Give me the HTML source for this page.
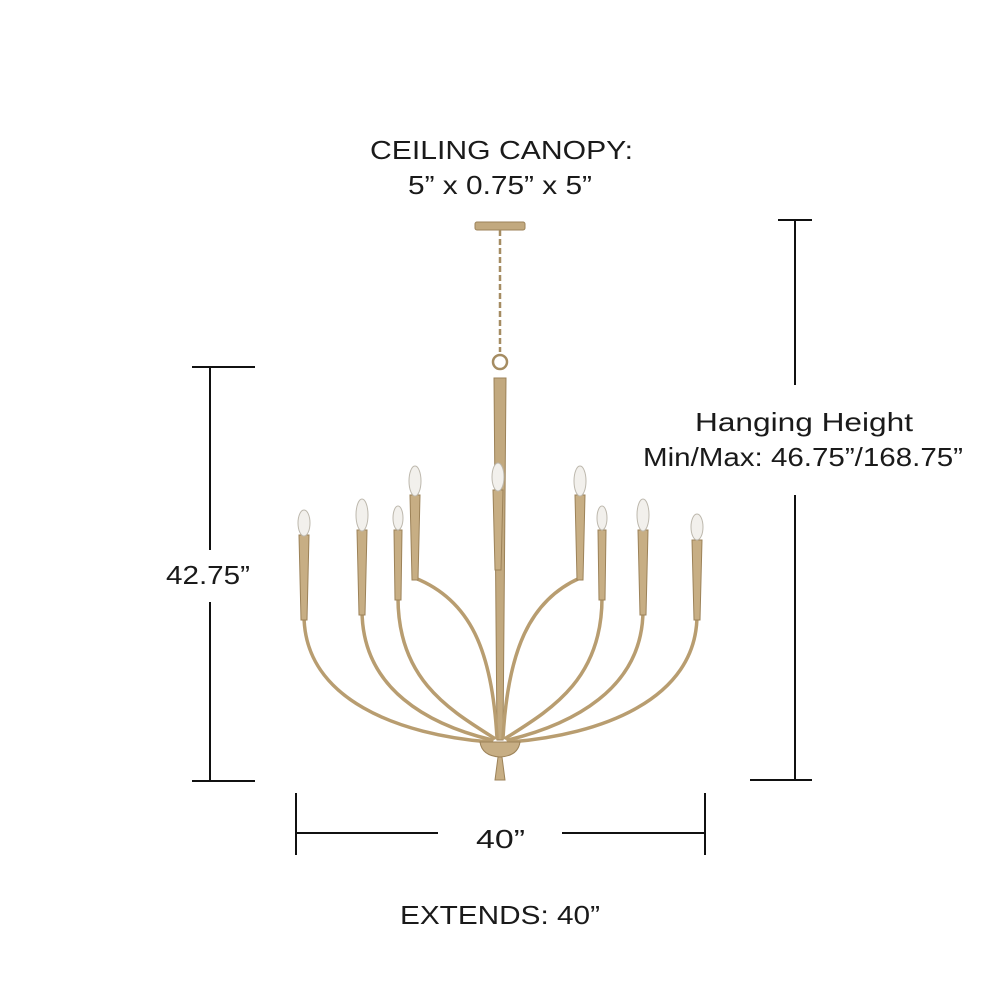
<!DOCTYPE html>
<html><head><style>
html,body{margin:0;padding:0;background:#fff;}
svg{display:block}
text{font-family:"Liberation Sans",sans-serif;fill:#1a1a1a;font-size:26px}
</style></head><body>
<svg width="1000" height="1000" viewBox="0 0 1000 1000" xmlns="http://www.w3.org/2000/svg">
<rect width="1000" height="1000" fill="#fff"/>
<g lengthAdjust="spacingAndGlyphs">
<text x="370" y="159" textLength="263" lengthAdjust="spacingAndGlyphs">CEILING CANOPY:</text>
<text x="408" y="194" textLength="184" lengthAdjust="spacingAndGlyphs">5” x 0.75” x 5”</text>
<text x="695" y="431" textLength="218" lengthAdjust="spacingAndGlyphs">Hanging Height</text>
<text x="643" y="466" textLength="320" lengthAdjust="spacingAndGlyphs">Min/Max: 46.75”/168.75”</text>
<text x="166" y="584" textLength="84" lengthAdjust="spacingAndGlyphs">42.75”</text>
<text x="476" y="848" textLength="49" lengthAdjust="spacingAndGlyphs">40”</text>
<text x="400" y="924" textLength="200" lengthAdjust="spacingAndGlyphs">EXTENDS: 40”</text>
</g>
<g stroke="#111" stroke-width="2" fill="none">
<line x1="192" y1="367" x2="255" y2="367"/>
<line x1="192" y1="781" x2="255" y2="781"/>
<line x1="210" y1="367" x2="210" y2="550"/>
<line x1="210" y1="602" x2="210" y2="781"/>
<line x1="778" y1="220" x2="812" y2="220"/>
<line x1="750" y1="780" x2="812" y2="780"/>
<line x1="795" y1="220" x2="795" y2="385"/>
<line x1="795" y1="495" x2="795" y2="780"/>
<line x1="296" y1="793" x2="296" y2="855"/>
<line x1="705" y1="793" x2="705" y2="855"/>
<line x1="296" y1="833" x2="438" y2="833"/>
<line x1="562" y1="833" x2="705" y2="833"/>
</g>
<g fill="#c2a97f" stroke="#9c8258" stroke-width="1">
<rect x="475" y="222" width="50" height="8" rx="2"/>
</g>
<line x1="500" y1="230" x2="500" y2="352" stroke="#a58c62" stroke-width="2.5" stroke-dasharray="6 3"/>
<circle cx="500" cy="362" r="7" fill="none" stroke="#a58c62" stroke-width="2.5"/>
<path d="M494 378 L506 378 L503 740 L497 740 Z" fill="#c2a97f" stroke="#9c8258"/>
<g fill="none" stroke="#b89d70" stroke-width="3.5" stroke-linecap="round">
<path d="M304 615 C304 700 400 735 490 742"/>
<path d="M362 610 C362 690 430 725 492 740"/>
<path d="M398 598 C398 680 450 710 494 738"/>
<path d="M415 578 C470 600 492 650 497 738"/>
<path d="M580 578 C530 600 508 650 503 738"/>
<path d="M602 598 C602 680 550 710 506 738"/>
<path d="M643 610 C643 690 570 725 508 740"/>
<path d="M697 615 C697 700 600 735 510 742"/>
</g>
<g fill="#c7ae84" stroke="#9c8258" stroke-width="1">
<path d="M299 535 L309 535 L307 620 L301 620 Z"/>
<path d="M357 530 L367 530 L365 615 L359 615 Z"/>
<path d="M394 530 L402 530 L401 600 L395 600 Z"/>
<path d="M410 495 L420 495 L418 580 L412 580 Z"/>
<path d="M493 490 L503 490 L501 570 L495 570 Z"/>
<path d="M575 495 L585 495 L583 580 L577 580 Z"/>
<path d="M598 530 L606 530 L605 600 L599 600 Z"/>
<path d="M638 530 L648 530 L646 615 L640 615 Z"/>
<path d="M692 540 L702 540 L700 620 L694 620 Z"/>
<path d="M480 742 L520 742 Q518 756 500 757 Q482 756 480 742 Z"/>
<path d="M498 757 L502 757 L505 780 L495 780 Z"/>
</g>
<g fill="#f2f0ec" stroke="#bdb8ad" stroke-width="1">
<ellipse cx="304" cy="523" rx="6" ry="13"/>
<ellipse cx="362" cy="515" rx="6" ry="16"/>
<ellipse cx="398" cy="518" rx="5" ry="12"/>
<ellipse cx="415" cy="481" rx="6" ry="15"/>
<ellipse cx="498" cy="477" rx="6" ry="14"/>
<ellipse cx="580" cy="481" rx="6" ry="15"/>
<ellipse cx="602" cy="518" rx="5" ry="12"/>
<ellipse cx="643" cy="515" rx="6" ry="16"/>
<ellipse cx="697" cy="527" rx="6" ry="13"/>
</g>
</svg>
</body></html>
